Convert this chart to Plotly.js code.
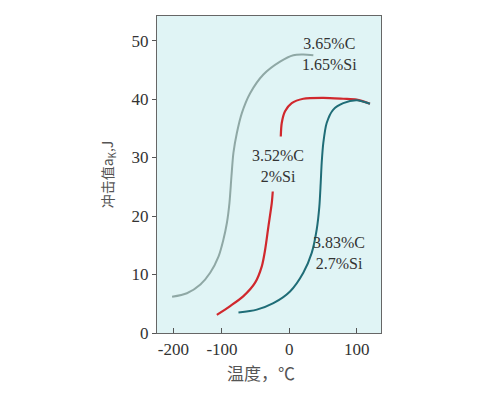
<!DOCTYPE html>
<html>
<head>
<meta charset="utf-8">
<script src="https://cdn.plot.ly/plotly-3.0.1.min.js"></script>
<style>html,body{margin:0;padding:0;background:#fff;}#chart{width:503px;height:411px;}</style>
</head>
<body>
<div id="chart"></div>
<script>
// Curve 1: 3.65%C 1.65%Si (grey)
const greyX = [-174, -152, -132, -117.5, -105, -98, -92.7, -88.9, -85.9, -83, -77.9, -70.5, -58.2, -38.5, -13.8, 5.9, 20.7, 35.6];
const greyY = [6.2, 6.8, 8.3, 10.3, 13.1, 15.9, 18.8, 22.2, 26.8, 30.8, 34.2, 37.6, 41.0, 44.2, 46.4, 47.5, 47.6, 47.5];
// Curve 2: 3.52%C 2%Si (red), lower branch and upper branch
const redLowX = [-107.6, -87.9, -68.1, -50.8, -40.9, -36, -31.1, -26.1, -24.6];
const redLowY = [3.1, 4.6, 6.3, 8.6, 11.4, 14.2, 18.2, 22.2, 24.2];
const redHighX = [-12.7, -11.3, -6.4, 3.5, 20.7, 50.4, 80, 99.8, 119.6];
const redHighY = [33.6, 35.9, 37.9, 39.3, 40.05, 40.2, 40.05, 39.9, 39.2];
// Curve 3: 3.83%C 2.7%Si (teal)
const tealX = [-75.5, -48.3, -23.7, 1.0, 20.7, 33.2, 40.6, 44.5, 46.5, 48, 50.4, 55.4, 65.2, 80, 99.8, 119.6];
const tealY = [3.5, 4.0, 5.1, 7.1, 10.3, 13.7, 17.7, 21.6, 25.6, 29.1, 32.5, 35.9, 38.2, 39.3, 39.8, 39.2];

const xTickVals = [-172, -100, 0, 100];
const xTickText = ['-200', '-100', '0', '100'];
const yTickVals = [0, 10, 20, 30, 40, 50];

const labels = [
  {x: 60, y: 47.7, text: '3.65%C<br>1.65%Si'},
  {x: -16.5, y: 28.5, text: '3.52%C<br>2%Si'},
  {x: 73.5, y: 13.6, text: '3.83%C<br>2.7%Si'}
];
const xTitle = '温度，℃';
const yTitle = '冲击值a<sub>K</sub>,J';

const serif = 'Liberation Serif, Times New Roman, serif';
const cjk = 'Noto Sans CJK SC, sans-serif';

const traces = [
  {x: greyX, y: greyY, mode: 'lines', line: {color: '#8fa8a5', width: 2, shape: 'spline', smoothing: 0.8}, hoverinfo: 'skip'},
  {x: redLowX, y: redLowY, mode: 'lines', line: {color: '#d0282d', width: 2.2, shape: 'spline', smoothing: 0.8}, hoverinfo: 'skip'},
  {x: redHighX, y: redHighY, mode: 'lines', line: {color: '#d0282d', width: 2.2, shape: 'spline', smoothing: 0.8}, hoverinfo: 'skip'},
  {x: tealX, y: tealY, mode: 'lines', line: {color: '#1f6d77', width: 2, shape: 'spline', smoothing: 0.8}, hoverinfo: 'skip'}
];

const annots = labels.map(l => ({
  x: l.x, y: l.y, xref: 'x', yref: 'y', text: l.text, showarrow: false,
  font: {family: serif, size: 16, color: '#333'}, align: 'center'
}));
annots.push({
  x: 0.464, y: 0, xref: 'paper', yref: 'paper', yanchor: 'middle', yshift: -39,
  text: xTitle, showarrow: false, font: {family: cjk, size: 17, color: '#555'}
});

const layout = {
  width: 503, height: 411,
  margin: {l: 157, r: 122, t: 16, b: 78},
  paper_bgcolor: '#ffffff',
  plot_bgcolor: '#e0f4f5',
  showlegend: false,
  font: {family: serif, size: 13, color: '#333'},
  xaxis: {
    range: [-196.4, 136],
    tickvals: xTickVals, ticktext: xTickText,
    ticks: 'inside', ticklen: 5, tickcolor: '#555',
    showgrid: false, zeroline: false,
    showline: true, linecolor: '#666', linewidth: 1.2, mirror: true,
    tickfont: {family: serif, size: 17, color: '#333'}
  },
  yaxis: {
    range: [0, 54.2],
    tickvals: yTickVals,
    ticks: 'outside', ticklen: 4, tickcolor: '#555',
    showgrid: false, zeroline: false,
    showline: true, linecolor: '#666', linewidth: 1.2, mirror: true,
    tickfont: {family: serif, size: 17, color: '#333'},
    title: {text: yTitle, font: {family: cjk, size: 14, color: '#555'}, standoff: 14}
  },
  annotations: annots
};

Plotly.newPlot('chart', traces, layout, {displayModeBar: false, staticPlot: true});
</script>
</body>
</html>
